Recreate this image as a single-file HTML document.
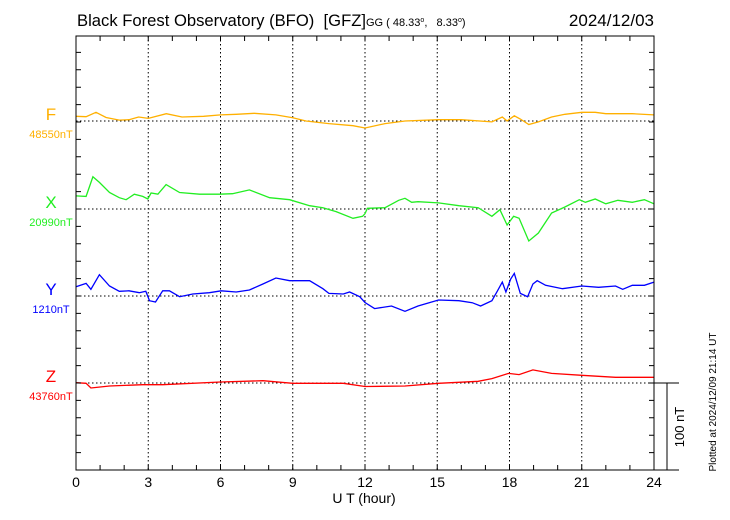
<!DOCTYPE html>
<html><head><meta charset="utf-8"><style>
html,body{margin:0;padding:0;background:#fff;}
svg{display:block;font-family:"Liberation Sans",sans-serif;}
text{white-space:pre;}
</style></head><body>
<svg id="chart" width="730" height="520" viewBox="0 0 730 520" xmlns="http://www.w3.org/2000/svg">
<text x="77" y="26" font-size="17" textLength="289" lengthAdjust="spacingAndGlyphs" xml:space="preserve">Black Forest Observatory (BFO)  [GFZ]</text>
<text x="366" y="26" font-size="11" xml:space="preserve">GG ( 48.33<tspan font-size="7" dy="-4">o</tspan><tspan dy="4">,   8.33</tspan><tspan font-size="7" dy="-4">o</tspan><tspan dy="4">)</tspan></text>
<text x="654" y="26" font-size="17" text-anchor="end">2024/12/03</text>
<text x="364" y="503" font-size="14" text-anchor="middle">U T (hour)</text>
<text transform="translate(716,402) rotate(-90)" font-size="10" text-anchor="middle">Plotted at 2024/12/09 21:14 UT</text>
<text transform="translate(684,427) rotate(-90)" font-size="13" text-anchor="middle">100 nT</text>
<g id="grid"></g><g id="series"></g><g id="frame"></g>
</svg>
<script>
const hoursTicks=[0,3,6,9,12,15,18,21,24];
const fT=[0,0.42,0.83,1.25,1.8,2.2,2.6,3.0,3.75,4.4,5.3,6.0,6.65,7.4,8.3,9.0,9.55,10.5,11.5,12.0,12.83,13.66,15.05,16.0,17.27,17.7,17.9,18.2,18.45,18.8,19.2,19.75,20.3,21.0,21.56,22,23.1,24];
const fV=[5.4,5,10,4,1,1.5,4.6,3,8.4,4.6,5.4,7,7.7,8.8,7,3.8,0,-3,-5.4,-8,-3,0,1.5,1.5,-1,4.6,0,6,2.3,-4,-1,4.6,7.7,10,10,8.4,8.4,7];
const xT=[0,0.42,0.7,0.97,1.39,1.8,2.08,2.42,2.77,2.98,3.12,3.4,3.74,4.3,5.13,5.96,6.5,7.2,8.04,8.87,9.7,10.25,10.8,11.5,11.9,12.0,12.1,12.83,13.4,13.66,13.94,14.2,15.05,15.9,16.7,17.27,17.6,17.9,18.17,18.4,18.8,19.2,19.75,20.3,20.9,21.15,21.56,22,22.5,23.1,23.6,24];
const xV=[15,14.5,37,30.6,19,13,10.7,17,14.5,11.5,18.4,17,28,19,17,17,17.6,22,13,10.7,3.8,1.5,-3,-10.7,-8.4,-5.4,0.8,1.5,10,12.3,7.7,8.4,7,3.8,1.5,-8.4,-0.8,-18.4,-8.4,-10.7,-36.8,-27.6,-4.6,2.3,10.7,7.7,11.5,6,10,7.7,10.7,6];
const yT=[0,0.42,0.62,0.97,1.39,1.8,2.2,2.63,2.9,3.05,3.3,3.6,3.88,4.3,4.85,5.54,6.03,6.65,7.2,7.76,8.3,8.87,9.7,10.25,10.5,11.1,11.36,11.78,12.0,12.4,13.1,13.66,14.2,15.05,15.9,16.45,16.8,17.27,17.5,17.7,17.85,18.05,18.2,18.45,18.75,18.97,19.15,19.5,20.2,21.0,21.7,22.4,22.7,23.1,23.6,24];
const yV=[10.7,14.5,7.7,24.5,11.5,5.4,6,3.8,5.4,-5.4,-6.9,6,6,-0.8,2.3,3.8,6,4.6,6.9,13.8,20.7,17.6,17.6,8.4,3,2.3,4.6,-0.8,-7.5,-14.5,-11.5,-17.6,-11.5,-4.6,-5.4,-7.7,-11.5,-5.4,6,16,4.6,19.5,26,3,-0.8,13.8,17.6,12.3,8.4,11.5,10,11.5,7.7,12.3,12.3,16];
const zT=[0,0.42,0.62,1.39,2.77,3.6,6.0,7.76,9.0,11.1,12.0,13.66,15.05,16.7,17.27,17.96,18.4,18.97,19.75,21.0,22.4,24];
const zV=[0.4,-0.4,-5.7,-3.4,-1.9,-1.9,1.1,2.7,-0.4,-0.4,-4,-3.4,-0.4,1.9,5,11,9.6,15,11,8.8,6.5,6.5];
const comps=["F","X","Y","Z"];
const baseLabels=["48550nT","20990nT","1210nT","43760nT"];
const baseY=[121,209,296,383];
const colors=["#ffb000","#22ee22","#0000ff","#ff0000"];
const NS="http://www.w3.org/2000/svg";
const L=76,R=654,T=36,B=470,PXNT=0.87;
const sx=h=>L+h*(R-L)/24;
const sy=(i,v)=>baseY[i]-v*PXNT;
function mk(tag,attrs,parent){const e=document.createElementNS(NS,tag);for(const k in attrs)e.setAttribute(k,attrs[k]);parent.appendChild(e);return e;}
const grid=document.getElementById('grid'),ser=document.getElementById('series'),fr=document.getElementById('frame');
hoursTicks.forEach(h=>{
  if(h>0&&h<24){const g=mk('line',{x1:sx(h),x2:sx(h),y1:T,y2:B,stroke:'#000','stroke-width':1,'stroke-dasharray':'1.5,2.5'},grid);
  
  }
  const t=mk('text',{x:sx(h),y:487,'font-size':14,'text-anchor':'middle'},fr);t.textContent=h;
  
  
});
comps.forEach((c,i)=>{
  const g=mk('line',{x1:L,x2:R,y1:baseY[i],y2:baseY[i],stroke:'#000','stroke-width':1,'stroke-dasharray':'1.5,2.5'},grid);
  
  
  const t=mk('text',{x:51,y:baseY[i]-1,'font-size':17,'text-anchor':'middle',fill:colors[i]},fr);t.textContent=c;
  
  
  const b=mk('text',{x:51,y:baseY[i]+17,'font-size':11,'text-anchor':'middle',fill:colors[i]},fr);b.textContent=baseLabels[i];
  
  
});
const data=[[fT,fV],[xT,xV],[yT,yV],[zT,zV]];
data.forEach((d,i)=>{
  const pts=d[0].map((h,k)=>sx(h).toFixed(1)+','+sy(i,d[1][k]).toFixed(1)).join(' ');
  const p=mk('polyline',{points:pts,fill:'none',stroke:colors[i],'stroke-width':1.3},ser);
  
  
});
const f=mk('rect',{x:L,y:T,width:R-L,height:B-T,fill:'none',stroke:'#000','stroke-width':1},fr);


let tk='';
for(let h=1;h<24;h++){tk+=`M${sx(h)},${T}v5M${sx(h)},${B}v-5`;}
for(let k=1;k<25;k++){const y=B-k*17.4;if(y>T+1)tk+=`M${L},${y}h5M${R},${y}h-5`;}
const ticks=mk('path',{d:tk,stroke:'#000','stroke-width':1,fill:'none'},fr);


const sb=mk('path',{d:`M${R},383H679M${R},${B}H679M667,383V${B}`,stroke:'#000','stroke-width':1,fill:'none'},fr);


</script>
</body></html>
